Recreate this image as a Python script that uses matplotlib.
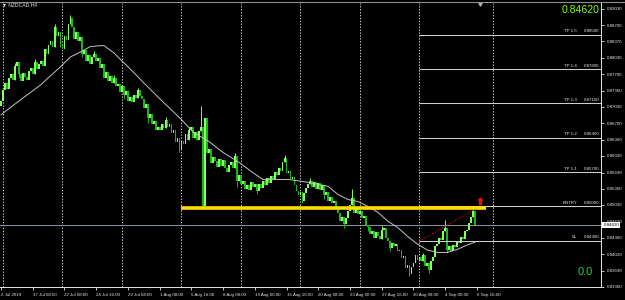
import matplotlib
matplotlib.use("Agg")
import matplotlib.pyplot as plt
import matplotlib.transforms as mtransforms
from matplotlib.lines import Line2D

plt.rcParams['font.family'] = ['Liberation Sans', 'DejaVu Sans']

# chart data (NZDCAD H4)
symbol = "NZDCAD,H4"
last_price = 0.84620
first_open = 0.8705

closes = [
    0.8715, 0.8738, 0.8752, 0.8740, 0.8762, 0.8771, 0.8758, 0.8786, 0.8795, 0.8770,
    0.8756, 0.8772, 0.8765, 0.8758, 0.8776, 0.8782, 0.8770, 0.8794, 0.8780, 0.8790,
    0.8797, 0.8786, 0.8822, 0.8810, 0.8830, 0.8838, 0.8826, 0.8866, 0.8848, 0.8855,
    0.8832, 0.8822, 0.8848, 0.8840, 0.8872, 0.8884, 0.8866, 0.8842, 0.8856, 0.8838,
    0.8845, 0.8812, 0.8820, 0.8796, 0.8808, 0.8790, 0.8804, 0.8812, 0.8796, 0.8803,
    0.8782, 0.8790, 0.8762, 0.8775, 0.8756, 0.8766, 0.8752, 0.8762, 0.8745, 0.8750,
    0.8734, 0.8746, 0.8728, 0.8735, 0.8716, 0.8724, 0.8714, 0.8728, 0.8722, 0.8738,
    0.8726, 0.8720, 0.8700, 0.8708, 0.8680, 0.8688, 0.8668, 0.8674, 0.8655, 0.8662,
    0.8655, 0.8668, 0.8660, 0.8676, 0.8662, 0.8668, 0.8650, 0.8655, 0.8632, 0.8640,
    0.8618, 0.8634, 0.8628, 0.8648, 0.8636, 0.8655, 0.8662, 0.8640, 0.8652, 0.8636,
    0.8654, 0.8662, 0.8500, 0.8680, 0.8608, 0.8618, 0.8588, 0.8600, 0.8592, 0.8580,
    0.8596, 0.8582, 0.8594, 0.8578, 0.8570, 0.8584, 0.8590, 0.8578, 0.8602, 0.8552,
    0.8564, 0.8546, 0.8552, 0.8536, 0.8544, 0.8534, 0.8550, 0.8540, 0.8546, 0.8532,
    0.8545, 0.8538, 0.8552, 0.8544, 0.8558, 0.8548, 0.8562, 0.8555, 0.8570, 0.8564,
    0.8578, 0.8572, 0.8590, 0.8598, 0.8568, 0.8572, 0.8556, 0.8560, 0.8544, 0.8532,
    0.8524, 0.8530, 0.8512, 0.8528, 0.8538, 0.8545, 0.8552, 0.8540, 0.8550, 0.8536,
    0.8548, 0.8534, 0.8544, 0.8524, 0.8530, 0.8512, 0.8520, 0.8506, 0.8512, 0.8496,
    0.8486, 0.8470, 0.8478, 0.8464, 0.8476, 0.8490, 0.8502, 0.8518, 0.8486, 0.8496,
    0.8484, 0.8490, 0.8476, 0.8480, 0.8462, 0.8458, 0.8444, 0.8450, 0.8436, 0.8448,
    0.8440, 0.8434, 0.8452, 0.8456, 0.8436, 0.8430, 0.8415, 0.8426, 0.8420, 0.8424,
    0.8408, 0.8412, 0.8394, 0.8398, 0.8375, 0.8380, 0.8362, 0.8376, 0.8384, 0.8400,
    0.8390, 0.8396, 0.8388, 0.8400, 0.8378, 0.8384, 0.8370, 0.8388, 0.8396, 0.8420,
    0.8424, 0.8436, 0.8432, 0.8450, 0.8456, 0.8410, 0.8420, 0.8408, 0.8422, 0.8418,
    0.8430, 0.8426, 0.8438, 0.8434, 0.8450, 0.8452, 0.8466, 0.8478, 0.8490, 0.8462,
]

# wicks that stand out from the bodies
spike_highs = {7: 0.8792, 17: 0.8800, 27: 0.8872, 35: 0.8890, 47: 0.8818, 57: 0.8768,
               69: 0.8742, 83: 0.8682, 95: 0.8662, 101: 0.8705, 118: 0.8608, 133: 0.8556,
               143: 0.8604, 156: 0.8558, 177: 0.8535, 192: 0.8460, 213: 0.8404,
               224: 0.8473, 238: 0.8494}
spike_lows = {9: 0.8762, 30: 0.8826, 41: 0.8804, 62: 0.8720, 74: 0.8670, 90: 0.8610,
              102: 0.8497, 119: 0.8540, 129: 0.8526, 152: 0.8506, 163: 0.8516,
              173: 0.8455, 185: 0.8450, 196: 0.8408, 206: 0.8357, 216: 0.8364,
              225: 0.8404}

# moving average
ma_bars = [0, 10, 20, 30, 35, 40, 45, 50, 52, 57,
           62, 67, 72, 77, 82, 87, 92, 97, 105, 112,
           120, 127, 132, 145, 155, 165, 170, 175, 180, 185,
           190, 195, 200, 205, 210, 215, 220, 225, 230, 235, 239]
ma_values = [0.8687, 0.8718, 0.8748, 0.8785, 0.8805, 0.8815, 0.8826, 0.8828, 0.8828, 0.8813,
             0.8793, 0.8773, 0.8752, 0.8732, 0.8712, 0.8693, 0.8673, 0.8651, 0.8632, 0.8610,
             0.8590, 0.8569, 0.8555, 0.8555, 0.8549, 0.8541, 0.8524, 0.8514, 0.8510, 0.8500,
             0.8488, 0.8470, 0.8457, 0.8439, 0.8423, 0.8411, 0.8406, 0.8406, 0.8412, 0.8421, 0.8427]

# trade levels
level_names = ['TP 1:5', 'TP 1:4', 'TP 1:3', 'TP 1:2', 'TP 1:1', 'ENTRY', 'SL']
level_prices = [0.88500, 0.87800, 0.87100, 0.86400, 0.85700, 0.85000, 0.84300]
levels_start = 211
support_level = 0.8496
support_bars = [91, 244.6]
trend_bars = [211, 239]
trend_prices = [0.8429, 0.8494]
arrow_bar = 241.5
arrow_price = 0.8512
shift_bar = 241.6

date_ticks = [0, 16, 32, 48, 64, 80, 96, 112, 128, 144, 160, 176, 192, 208, 224, 240]
date_labels = ["2 Jul 2019", "17 Jul 08:00", "22 Jul 08:00", "24 Jul 16:00", "29 Jul 08:00",
               "1 Aug 08:00", "5 Aug 16:00", "8 Aug 08:00", "13 Aug 00:00", "15 Aug 16:00",
               "20 Aug 08:00", "23 Aug 00:00", "27 Aug 16:00", "30 Aug 08:00", "4 Sep 00:00",
               "6 Sep 16:00"]
price_ticks = [0.89030, 0.88700, 0.88370, 0.88030, 0.87700, 0.87360, 0.87030, 0.86700, 0.86360,
               0.86030, 0.85690, 0.85360, 0.85030, 0.84690, 0.84360, 0.84020, 0.83690, 0.83360]
grid_bars = [1, 31, 61, 91, 121, 151, 181, 211, 248]

bull_color = '#86ff60'
bear_color = '#1cb41c'
fg = '#e6e6e6'

# figure: 625x300 px, plot area 0..601 x 3..287
fig = plt.figure(figsize=(6.25, 3), dpi=100, facecolor='black')
ax = fig.add_axes([0, 13 / 300, 601 / 625, 284 / 300], facecolor='black')
xmax = -0.5 + 601 / 1.983
ax.set_xlim(-0.5, xmax)
ax.set_ylim(0.83355, 0.89151)

# vertical dotted grid
for g in grid_bars:
    ax.axvline(g, color='#d0d0d0', lw=0.7, ls=(0, (1.4, 1.6)), zorder=1)

# candles
opens = [first_open] + closes[:-1]
bars_x = list(range(len(closes)))
bottoms, heights, colors = [], [], []
for i, (o, c) in enumerate(zip(opens, closes)):
    col = bull_color if c >= o else bear_color
    colors.append(col)
    bottoms.append(min(o, c))
    heights.append(max(abs(c - o), 0.0001))
    hi = spike_highs.get(i, max(o, c))
    lo = spike_lows.get(i, min(o, c))
    if hi > max(o, c) or lo < min(o, c):
        ax.vlines(i, lo, hi, color=col, lw=0.7, zorder=3)
ax.bar(bars_x, heights, bottom=bottoms, width=0.9, color=colors, lw=0, zorder=3)

# moving average
ax.plot(ma_bars, ma_values, color='#c4c4c4', lw=0.7, zorder=4)

# current price line
ax.axhline(last_price, color='#8a96a3', lw=0.7, zorder=2)

# support (yellow) and trade levels
ax.hlines(support_level, support_bars[0], support_bars[1], color='#ffdd00', lw=2.6, zorder=5)
ax.hlines(level_prices, levels_start, xmax, color='#cfcfcf', lw=0.75, zorder=4)
blend = mtransforms.blended_transform_factory(ax.transAxes, ax.transData)
for name, price in zip(level_names, level_prices):
    ax.text(0.960, price + 0.0003, name, transform=blend, ha='right', va='bottom',
            fontsize=3.2, color=fg)
    ax.text(0.998, price + 0.0003, f"{price:.5f}", transform=blend, ha='right', va='bottom',
            fontsize=3.2, color=fg)

# trend line and arrow
ax.plot(trend_bars, trend_prices, color='#d01010', lw=0.7, ls=(0, (1.5, 1.5)), zorder=4)
ax.plot(arrow_bar, arrow_price, marker=r'$\Uparrow$', ms=4.5, color='#e01010', zorder=6)

# chart shift marker
ax.plot(shift_bar, 0.8913, marker='v', ms=2.5, color='#b0b0b0', clip_on=False, zorder=6)

# texts
ax.text(0.003, 0.992, '\u25bc ' + symbol, transform=ax.transAxes, fontsize=3.6,
        color=fg, ha='left', va='center')
ax.text(0.998, 0.9736, f"{last_price:.5f}", transform=ax.transAxes, fontsize=7.6,
        color='#80ff00', ha='right', va='center')
ax.text(0.9734, 0.0528, '0.0', transform=ax.transAxes, fontsize=8, color='#33cc33',
        ha='center', va='center')

# axes
for side in ['left', 'top']:
    ax.spines[side].set_visible(False)
for side in ['right', 'bottom']:
    ax.spines[side].set_color(fg)
    ax.spines[side].set_linewidth(0.7)
ax.yaxis.tick_right()
ax.set_yticks(price_ticks, [f"{p:.5f}" for p in price_ticks])
ax.set_xticks(date_ticks, date_labels)
for lab in ax.get_xticklabels():
    lab.set_ha('left')
ax.tick_params(axis='both', colors=fg, labelsize=3.2, length=2.5, width=0.6, pad=1.5)

# price box on the axis
ax.text(1.004, last_price, f"{last_price:.5f}", transform=blend, fontsize=3.2, color='black',
        ha='left', va='center', clip_on=False, zorder=7,
        bbox=dict(facecolor='white', edgecolor='none', pad=0.8))

# window border on top
fig.add_artist(Line2D([0, 1], [1 - 1.5 / 300] * 2, color='#909090', lw=0.8))

fig.savefig('out.png', dpi=100, facecolor='black')
